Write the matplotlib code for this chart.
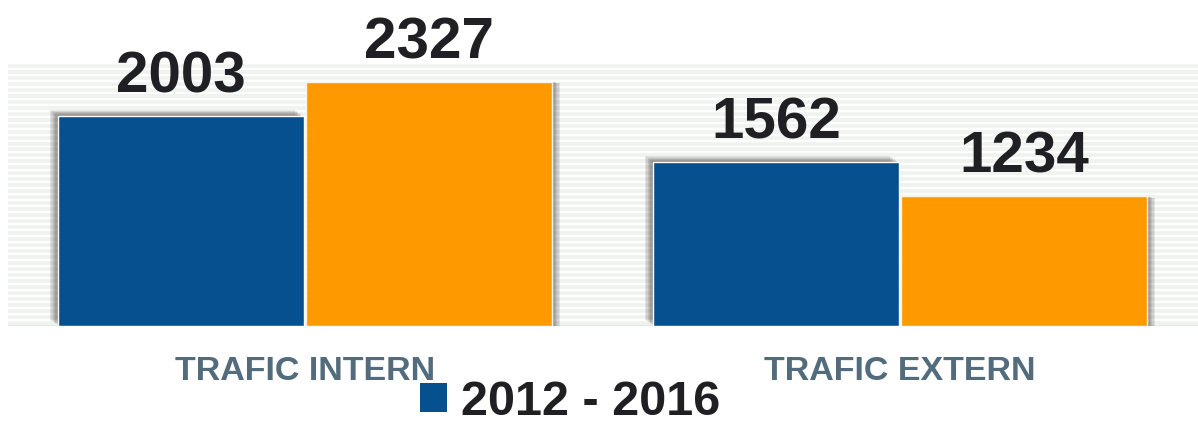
import matplotlib
matplotlib.use("Agg")
import matplotlib.pyplot as plt
import matplotlib.patheffects as pe
from matplotlib.patches import Patch
from matplotlib.transforms import blended_transform_factory
import numpy as np

categories = ["TRAFIC INTERN", "TRAFIC EXTERN"]
series_names = ["2012 - 2016", "_2017 - 2020"]
values_a = [2003, 1562]
values_b = [2327, 1234]

blue = "#07508f"
orange = "#fe9900"

plt.rcParams['font.family'] = ['Liberation Sans', 'DejaVu Sans']

fig = plt.figure(figsize=(11.98, 4.24), dpi=100)
ax = fig.add_axes([7.5 / 1198, 98 / 424, 1190 / 1198, 262.5 / 424])
ax.set_xlim(-0.5, 1.5)
ax.set_ylim(0, 2500)

# striped background
for yy in np.arange(28, 2480, 57):
    ax.axhline(yy, color="#f0f2f0", lw=2.6, zorder=0)
ax.axhline(0, color="#e4e6e6", lw=1.5, zorder=0)

x = np.arange(len(categories))
w = 0.413


def soft_shadow(dx, dy):
    effs = []
    for k in range(6, 0, -1):
        effs.append(pe.SimplePatchShadow(offset=(dx * k / 6, dy * k / 6),
                                         shadow_rgbFace="#333333", alpha=0.11))
    effs.append(pe.Normal())
    return effs


bars_a = ax.bar(x - w / 2 - 0.002, values_a, w, color=blue, edgecolor="#ffffff", lw=1,
                label=series_names[0], zorder=2, path_effects=soft_shadow(-6, 4))
bars_b = ax.bar(x + w / 2 + 0.002, values_b, w, color=orange, edgecolor="#fff3e0", lw=1,
                label=series_names[1], zorder=2, path_effects=soft_shadow(6, -1))

for bars, vals in ((bars_a, values_a), (bars_b, values_b)):
    for b, v in zip(bars, vals):
        ax.annotate(f"{v}", (b.get_x() + b.get_width() / 2, v), xytext=(0, 17),
                    textcoords="offset points", ha="center", va="baseline",
                    fontsize=42, fontweight="bold", color="#1f1f24")

trans = blended_transform_factory(ax.transData, ax.transAxes)
for xi, c in zip(x, categories):
    ax.text(xi, -0.2057, c, transform=trans, ha="center", va="baseline",
            fontsize=24.5, fontweight="bold", color="#526b7d")

for s in ax.spines.values():
    s.set_visible(False)
ax.set_xticks([])
ax.set_yticks([])

fig.legend(handles=[Patch(facecolor=blue, edgecolor="none")], labels=[series_names[0]],
           loc="center", bbox_to_anchor=(0.476, 0.051), frameon=False, borderpad=0,
           prop={"size": 35, "weight": "bold"}, handlelength=0.55, handleheight=0.55,
           handletextpad=0.3, labelcolor="#1f1f24")

fig.savefig("out.png", dpi=100)
